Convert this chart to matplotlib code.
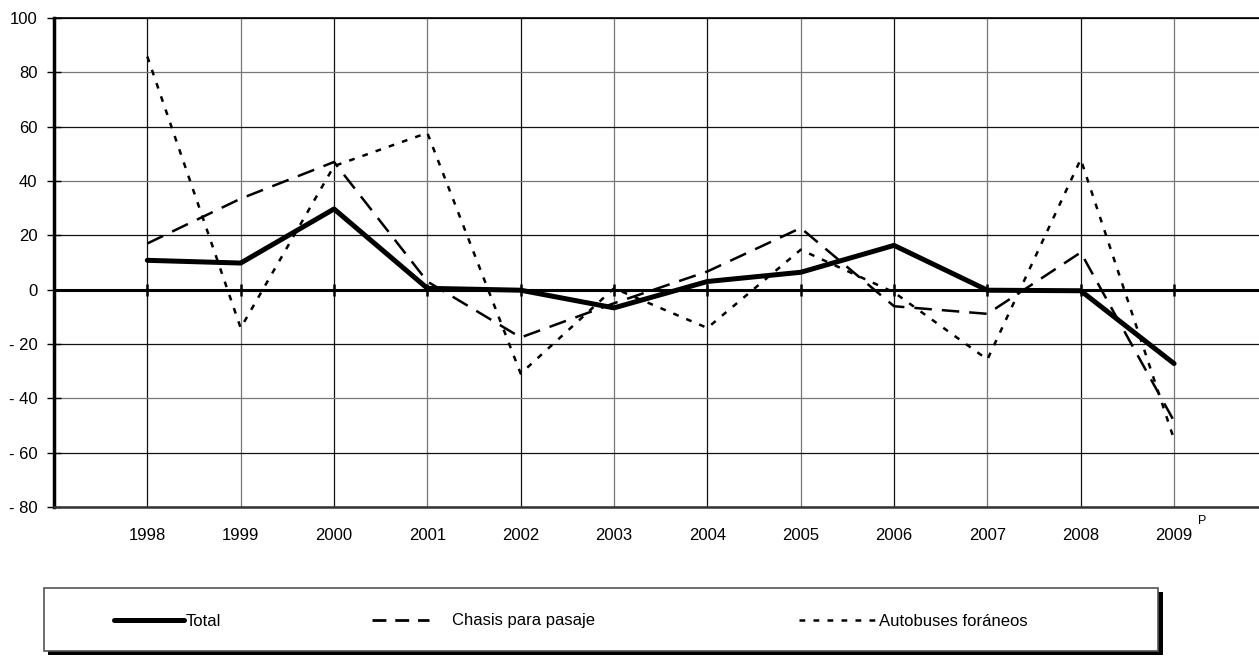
import matplotlib
matplotlib.use("Agg")
import matplotlib.pyplot as plt
from matplotlib.patches import Rectangle
from matplotlib.lines import Line2D

plt.rcParams['font.family'] = ['Liberation Sans', 'DejaVu Sans']

years = ["1998", "1999", "2000", "2001", "2002", "2003", "2004", "2005", "2006", "2007", "2008", "2009"]
total = [10.8, 9.8, 29.7, 0.5, -0.2, -6.7, 3.0, 6.4, 16.3, -0.2, -0.4, -27.2]
chasis = [17.0, 33.5, 47.0, 3.0, -17.6, -5.0, 6.7, 22.7, -6.1, -8.9, 13.7, -48.4]
autobuses = [85.8, -14.1, 45.5, 57.7, -30.9, 0.5, -14.1, 14.7, -1.0, -25.7, 48.0, -55.1]
yticks = [100, 80, 60, 40, 20, 0, -20, -40, -60, -80]
ytick_labels = ["100", "80", "60", "40", "20", "0", "- 20", "- 40", "- 60", "- 80"]
series_names = ["Total", "Chasis para pasaje", "Autobuses foráneos"]

fig = plt.figure(figsize=(12.59, 6.56), dpi=100)
ax = fig.add_axes([54/1259, 1 - 507/656, 1 - 54/1259, (507 - 18)/656])

x = list(range(len(years)))
l_tot, = ax.plot(x, total, color='black', lw=3.6, solid_capstyle='round', solid_joinstyle='round', zorder=5)
l_cha, = ax.plot(x, chasis, color='black', lw=1.8, dashes=(7, 4), zorder=4)
l_aut, = ax.plot(x, autobuses, color='black', lw=1.8, dashes=(2.3, 3.3), zorder=4)

ax.axhline(0, color='black', lw=2.2, zorder=3)
ax.plot(x, [0] * len(x), ls='none', marker='|', markersize=9, markeredgewidth=1.8, color='black', zorder=3)

ax.set_xlim(-1, 11.91)
ax.set_ylim(-80, 100)
ax.set_yticks(yticks)
ax.set_yticklabels(ytick_labels, fontsize=12)
ax.set_xticks(x)
ax.set_xticklabels(years, fontsize=12)
ax.tick_params(axis='x', length=0, pad=15)
ax.tick_params(axis='y', direction='inout', length=10, width=1, pad=7)

ax.grid(True, color='#111111', lw=0.9, zorder=1)
ax.set_axisbelow(True)
for i, gl in enumerate(ax.get_xgridlines()):
    gl.set_color('#111111' if i % 2 == 0 else '#777777')
for i, gl in enumerate(ax.get_ygridlines()):
    gl.set_color('#777777' if i in (1, 3, 7) else '#111111')

ax.spines['left'].set_linewidth(2.5)
ax.spines['bottom'].set_linewidth(1.8)
ax.spines['bottom'].set_color('#333333')
ax.spines['top'].set_linewidth(1.2)
ax.spines['right'].set_visible(False)

# superscript P on 2009
ax.annotate("P", xy=(11, -80), xycoords='data', xytext=(20, -6), textcoords='offset points',
            fontsize=9, ha='center', va='top')

# legend box with shadow
shadow = Rectangle((48/1259, 1 - 655/656), (1163 - 48)/1259, (655 - 592)/656,
                   transform=fig.transFigure, facecolor='black', edgecolor='none', zorder=0)
box = Rectangle((44/1259, 1 - 651/656), (1158 - 44)/1259, (651 - 588)/656,
                transform=fig.transFigure, facecolor='white', edgecolor='#555555', lw=1.2, zorder=1)
fig.patches.extend([shadow, box])

cha_handle = Line2D([], [], color='black', lw=2.0, dashes=(5, 3.2))

leg_y = 1 - 621/656
for line, name, x0, hl, tp in [(l_tot, series_names[0], 120, 4.2, 0.05),
                               (cha_handle, series_names[1], 378, 3.4, 1.4),
                               (l_aut, series_names[2], 805, 4.6, 0.15)]:
    lg = fig.legend([line], [name], loc='center left', bbox_to_anchor=(x0/1259 - 0.0045, leg_y),
                    frameon=False, fontsize=12, handlelength=hl, handletextpad=tp,
                    borderpad=0, borderaxespad=0)
    lg.set_zorder(5)

fig.savefig("out.png", dpi=100)
